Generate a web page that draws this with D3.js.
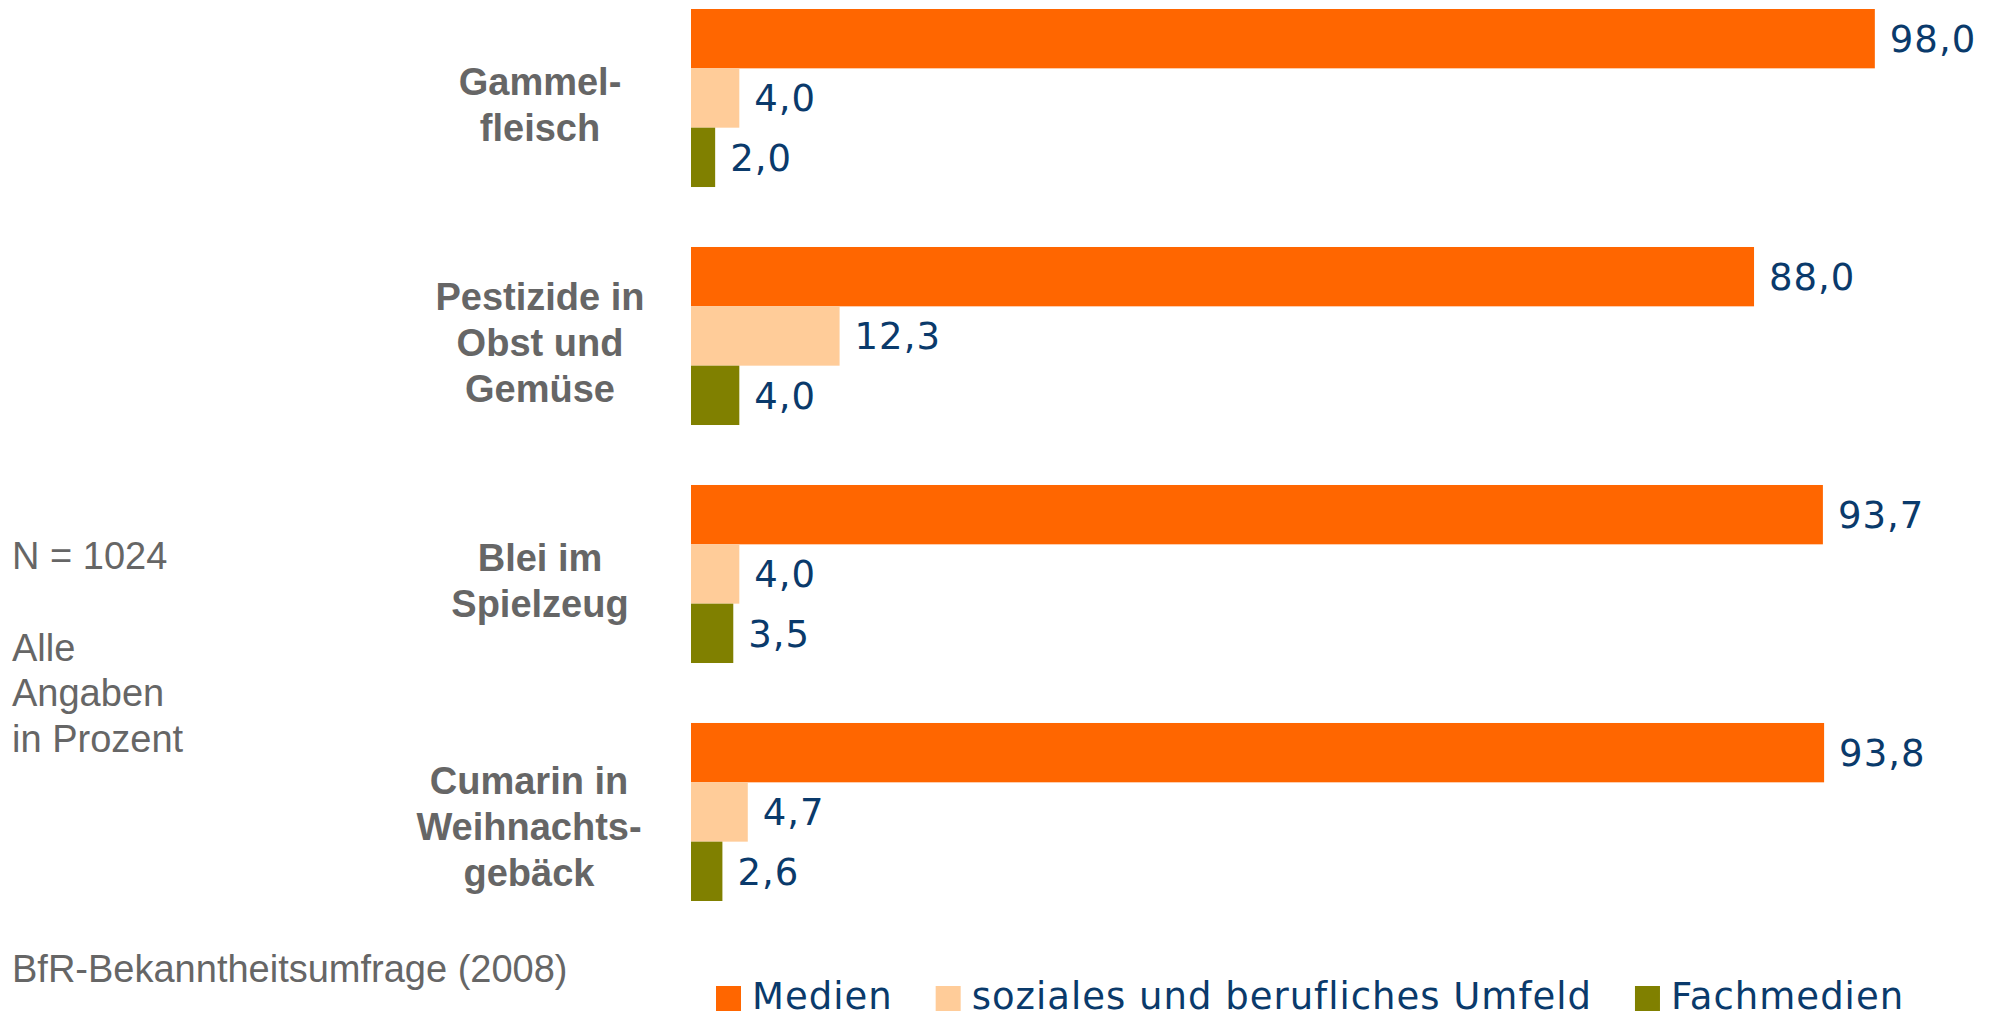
<!DOCTYPE html>
<html>
<head>
<meta charset="utf-8">
<script src="https://cdn.jsdelivr.net/npm/d3@7"></script>
<style>
  html, body { margin: 0; padding: 0; background: #fff; }
  svg { display: block; }
</style>
</head>
<body>
<div id="chart"></div>
<script>
// data
const categories = ["Gammelfleisch", "Pestizide in Obst und Gemüse", "Blei im Spielzeug", "Cumarin in Weihnachtsgebäck"]
const categoryLines = [["Gammel-", "fleisch"], ["Pestizide in", "Obst und", "Gemüse"], ["Blei im", "Spielzeug"], ["Cumarin in", "Weihnachts-", "gebäck"]]
const seriesNames = ["Medien", "soziales und berufliches Umfeld", "Fachmedien"]
const medien = [98.0, 88.0, 93.7, 93.8]
const sozial = [4.0, 12.3, 4.0, 4.7]
const fachmedien = [2.0, 4.0, 3.5, 2.6]
const noteLines = ["N = 1024", "", "Alle", "Angaben", "in Prozent"]
const sourceText = "BfR-Bekanntheitsumfrage (2008)"

const colors = ["#ff6600", "#ffcc99", "#808000"]
const width = 1995, height = 1015

const svg = d3.select("#chart").append("svg")
  .attr("width", width)
  .attr("height", height)

// rows: one per category, with the three values
const rows = categories.map((c, i) => ({
  cat: c,
  idx: i,
  lines: categoryLines[i],
  values: [medien[i], sozial[i], fachmedien[i]]
}))

const x = d3.scaleLinear()
  .domain([0, 100])
  .range([691, 1899])

const y0 = d3.scaleBand()
  .domain(categories)
  .range([9, 901])
  .paddingInner(0.252)
  .paddingOuter(0)

const y1 = d3.scaleBand()
  .domain(seriesNames)
  .range([0, y0.bandwidth()])

const color = d3.scaleOrdinal().domain(seriesNames).range(colors)

const fmt = v => d3.format(".1f")(v).replace(".", ",")

const groups = svg.selectAll("g.group")
  .data(rows)
  .enter()
  .append("g")
    .attr("class", "group")
    .attr("transform", d => "translate(0," + y0(d.cat) + ")")

// bars
groups.selectAll("rect")
  .data(d => d.values.map((v, j) => ({ key: seriesNames[j], value: v })))
  .enter()
  .append("rect")
    .attr("x", x(0))
    .attr("y", d => y1(d.key))
    .attr("width", d => x(d.value) - x(0))
    .attr("height", y1.bandwidth())
    .attr("fill", d => color(d.key))

// value labels
groups.selectAll("text.val")
  .data(d => d.values.map((v, j) => ({ key: seriesNames[j], value: v })))
  .enter()
  .append("text")
    .attr("class", "val")
    .attr("x", d => x(d.value) + 15)
    .attr("y", d => y1(d.key) + y1.bandwidth() / 2)
    .attr("dy", "0.36em")
    .style("font-family", "'DejaVu Sans', Verdana, sans-serif")
    .style("font-size", "37px")
    .style("letter-spacing", "1px")
    .style("fill", "#0a3a6b")
    .text(d => fmt(d.value))

// category labels, centered left of the bars
// (the last label box sits a bit lower and further left in the original)
const lineH = 46
const labelShift = [[0, 0], [0, 0], [0, 0], [-11, 8]]
groups.each(function(d) {
  const g = d3.select(this)
  const n = d.lines.length
  const [dx, dy] = labelShift[d.idx]
  const mid = y0.bandwidth() / 2 + 20 + dy
  g.selectAll("text.cat")
    .data(d.lines)
    .enter()
    .append("text")
      .attr("class", "cat")
      .attr("x", 540 + dx)
      .attr("y", (_, i) => mid + (i - (n - 1) / 2) * lineH)
      .attr("text-anchor", "middle")
      .style("font-family", "'Liberation Sans', Arial, sans-serif")
      .style("font-weight", "bold")
      .style("font-size", "38px")
      .style("fill", "#666666")
      .text(t => t)
})

// notes on the left
svg.selectAll("text.note")
  .data(noteLines)
  .enter()
  .append("text")
    .attr("class", "note")
    .attr("x", 12)
    .attr("y", (_, i) => 569 + i * 45.8)
    .style("font-family", "'Liberation Sans', Arial, sans-serif")
    .style("font-size", "38px")
    .style("fill", "#666666")
    .text(t => t)

svg.append("text")
  .attr("x", 12)
  .attr("y", 982)
  .style("font-family", "'Liberation Sans', Arial, sans-serif")
  .style("font-size", "38px")
  .style("fill", "#666666")
  .text(sourceText)

// legend
const size = 25
let lx = 716
seriesNames.forEach(name => {
  svg.append("rect")
    .attr("x", lx)
    .attr("y", 986)
    .attr("width", size)
    .attr("height", size)
    .attr("fill", color(name))
  const t = svg.append("text")
    .attr("x", lx + size + 11)
    .attr("y", 1009)
    .style("font-family", "'DejaVu Sans', Verdana, sans-serif")
    .style("font-size", "37px")
    .style("letter-spacing", "1px")
    .style("fill", "#0a3a6b")
    .text(name)
  lx = lx + size + 11 + t.node().getComputedTextLength() + 43
})
</script>
</body>
</html>
